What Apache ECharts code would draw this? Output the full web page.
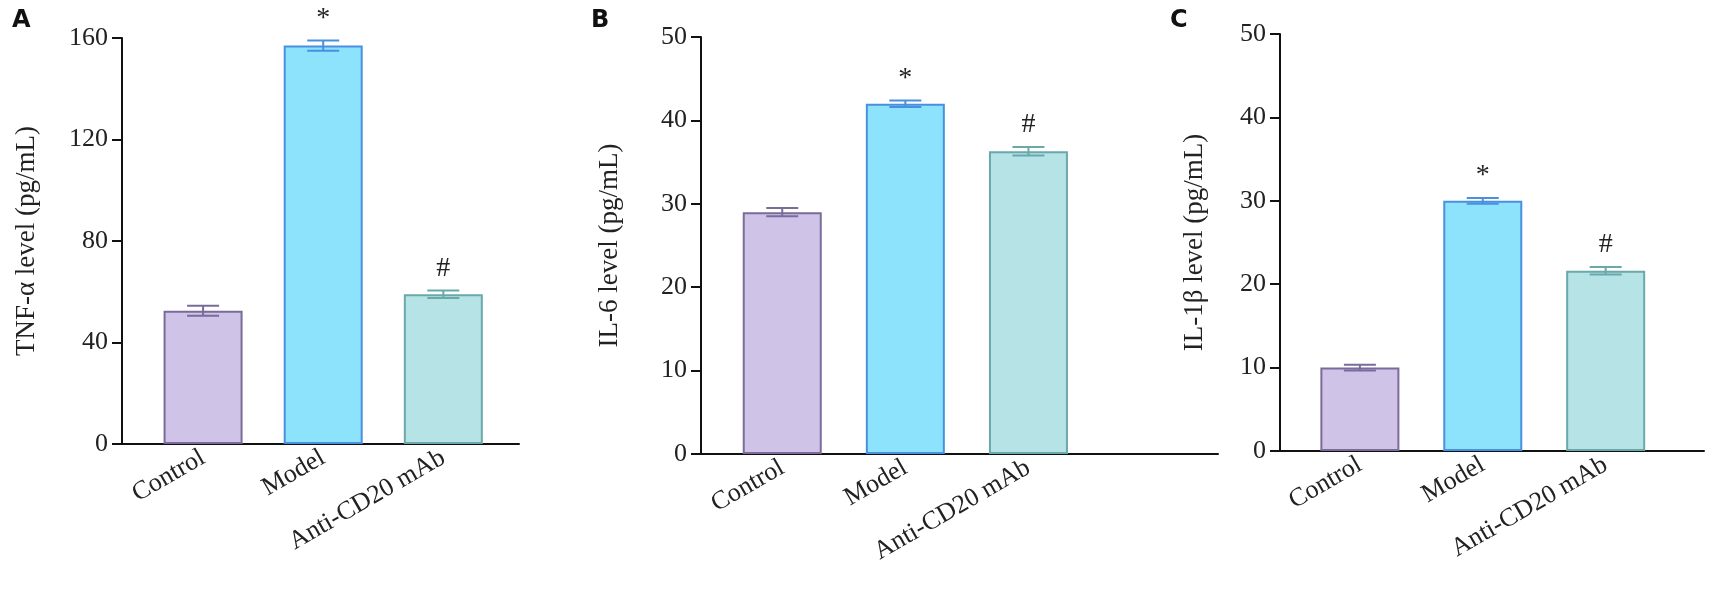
<!DOCTYPE html>
<html>
<head>
<meta charset="UTF-8">
<style>
  * { margin: 0; padding: 0 }
  #chart { width: 1710px; height: 597px; background: #fff; }
</style>
</head>
<body>
<div id="chart"></div>
<script src="https://cdn.jsdelivr.net/npm/echarts@6/dist/echarts.min.js"></script>
<script>
var categories = ['Control', 'Model', 'Anti-CD20 mAb'];
var tnfMean = [52.5, 157, 59];
var tnfErr = [2, 2, 1.5];
var il6Mean = [29, 42, 36.3];
var il6Err = [0.5, 0.4, 0.5];
var il1bMean = [10, 30, 21.6];
var il1bErr = [0.35, 0.35, 0.45];
var marks = ['', '*', '#'];

var fills = ['#cfc4e8', '#8de2fc', '#b5e3e6'];
var borders = ['#7a6b9a', '#4a90e0', '#6aa8aa'];
var serif = 'Liberation Serif';

var panels = [
    {letter: 'A', name: 'TNF-α level (pg/mL)', mean: tnfMean, err: tnfErr, max: 160, interval: 40,
        grid: {left: 122, top: 38, width: 397, height: 406}, xmin: 0.325, xmax: 3.63, nameGap: 82},
    {letter: 'B', name: 'IL-6 level (pg/mL)', mean: il6Mean, err: il6Err, max: 50, interval: 10,
        grid: {left: 701, top: 37, width: 517, height: 417}, xmin: 0.34, xmax: 4.54, nameGap: 78},
    {letter: 'C', name: 'IL-1β level (pg/mL)', mean: il1bMean, err: il1bErr, max: 50, interval: 10,
        grid: {left: 1280, top: 34, width: 424, height: 417}, xmin: 0.35, xmax: 3.8, nameGap: 72}
];

var grids = [], xAxes = [], yAxes = [], series = [], titles = [];
panels.forEach(function (p, i) {
    grids.push(p.grid);
    titles.push({text: p.letter, left: p.grid.left - 115, top: 4,
        textStyle: {fontFamily: 'DejaVu Sans', fontWeight: 'bold', fontSize: 24, color: '#111'}});
    xAxes.push({
        gridIndex: i, type: 'value', min: p.xmin, max: p.xmax,
        splitLine: {show: false},
        axisLine: {show: true, lineStyle: {color: '#111', width: 2}},
        axisTick: {show: false},
        axisLabel: {
            customValues: [1, 2, 3], rotate: 30, margin: 12,
            fontFamily: serif, fontSize: 26, color: '#222',
            formatter: function (v) { return categories[Math.round(v) - 1]; }
        }
    });
    yAxes.push({
        gridIndex: i, type: 'value', min: 0, max: p.max, interval: p.interval,
        name: p.name, nameLocation: 'middle', nameGap: p.nameGap,
        nameTextStyle: {fontFamily: serif, fontSize: 27, color: '#222'},
        splitLine: {show: false},
        axisLine: {show: true, lineStyle: {color: '#111', width: 2}},
        axisTick: {show: true, length: 10, lineStyle: {color: '#111', width: 2}},
        axisLabel: {fontFamily: serif, fontSize: 26, color: '#222', margin: 14}
    });
    series.push({
        type: 'bar', xAxisIndex: i, yAxisIndex: i, barWidth: 79,
        data: p.mean.map(function (v, k) {
            return {value: [k + 1, v], itemStyle: {color: fills[k], borderColor: borders[k], borderWidth: 2}};
        })
    });
    series.push({
        type: 'custom', xAxisIndex: i, yAxisIndex: i, z: 5,
        data: p.mean.map(function (v, k) { return [k + 1, v - p.err[k], v + p.err[k], k]; }),
        renderItem: function (params, api) {
            var x = api.value(0), k = api.value(3);
            var lo = api.coord([x, api.value(1)]), hi = api.coord([x, api.value(2)]);
            var w = 16, c = borders[k];
            var st = {stroke: c, lineWidth: 2};
            var children = [
                {type: 'line', shape: {x1: lo[0], y1: lo[1], x2: hi[0], y2: hi[1]}, style: st},
                {type: 'line', shape: {x1: lo[0] - w, y1: lo[1], x2: lo[0] + w, y2: lo[1]}, style: st},
                {type: 'line', shape: {x1: hi[0] - w, y1: hi[1], x2: hi[0] + w, y2: hi[1]}, style: st}
            ];
            if (marks[k]) {
                children.push({type: 'text', style: {text: marks[k], x: hi[0], y: hi[1] - 8,
                    align: 'center', verticalAlign: 'bottom', fill: '#222',
                    font: '28px "' + serif + '"'}});
            }
            return {type: 'group', children: children};
        }
    });
});

var myChart = echarts.init(document.getElementById('chart'));
myChart.setOption({
    animation: false,
    title: titles,
    grid: grids,
    xAxis: xAxes,
    yAxis: yAxes,
    series: series
});
</script>
</body>
</html>
